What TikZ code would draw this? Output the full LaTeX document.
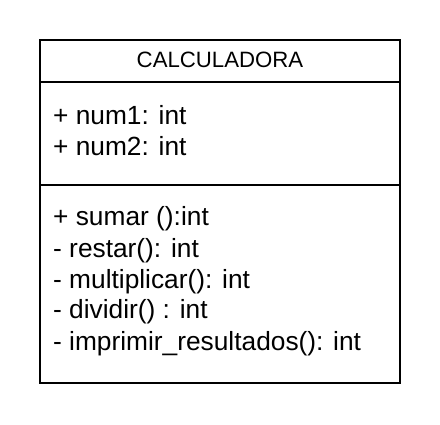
\documentclass[tikz,border=0pt]{standalone}
\usepackage{fontspec}
\setmainfont{Liberation Sans}
\begin{document}
\begin{tikzpicture}[x=1pt,y=-1pt,
  part/.style={draw=black,line width=1.8pt,minimum width=360pt,inner sep=0pt,outer sep=0pt,anchor=north west},
  member/.style={anchor=base west,inner sep=0pt,font=\fontsize{26.3}{30}\selectfont},
  title/.style={anchor=base,inner sep=0pt,font=\fontsize{22.2}{26}\selectfont}]
\useasboundingbox (0,0) rectangle (440,424);
\node[part,minimum height=42pt] (head) at (40,40) {};
\node[part,minimum height=103pt] (attrs) at (40,82) {};
\node[part,minimum height=198pt] (meths) at (40,185) {};
\node[title] (t) at (220,67) {CALCULADORA};
\node[member] (a1) at (53,124) {+ num1: int};
\node[member] (a2) at (53,155) {+ num2: int};
\node[member] (m1) at (53,225) {+ sumar ():int};
\node[member] (m2) at (53,257) {- restar(): int};
\node[member] (m3) at (53,288) {- multiplicar(): int};
\node[member] (m4) at (53,318) {- dividir() : int};
\node[member] (m5) at (53,350) {- imprimir\_resultados(): int};
\end{tikzpicture}
\end{document}
